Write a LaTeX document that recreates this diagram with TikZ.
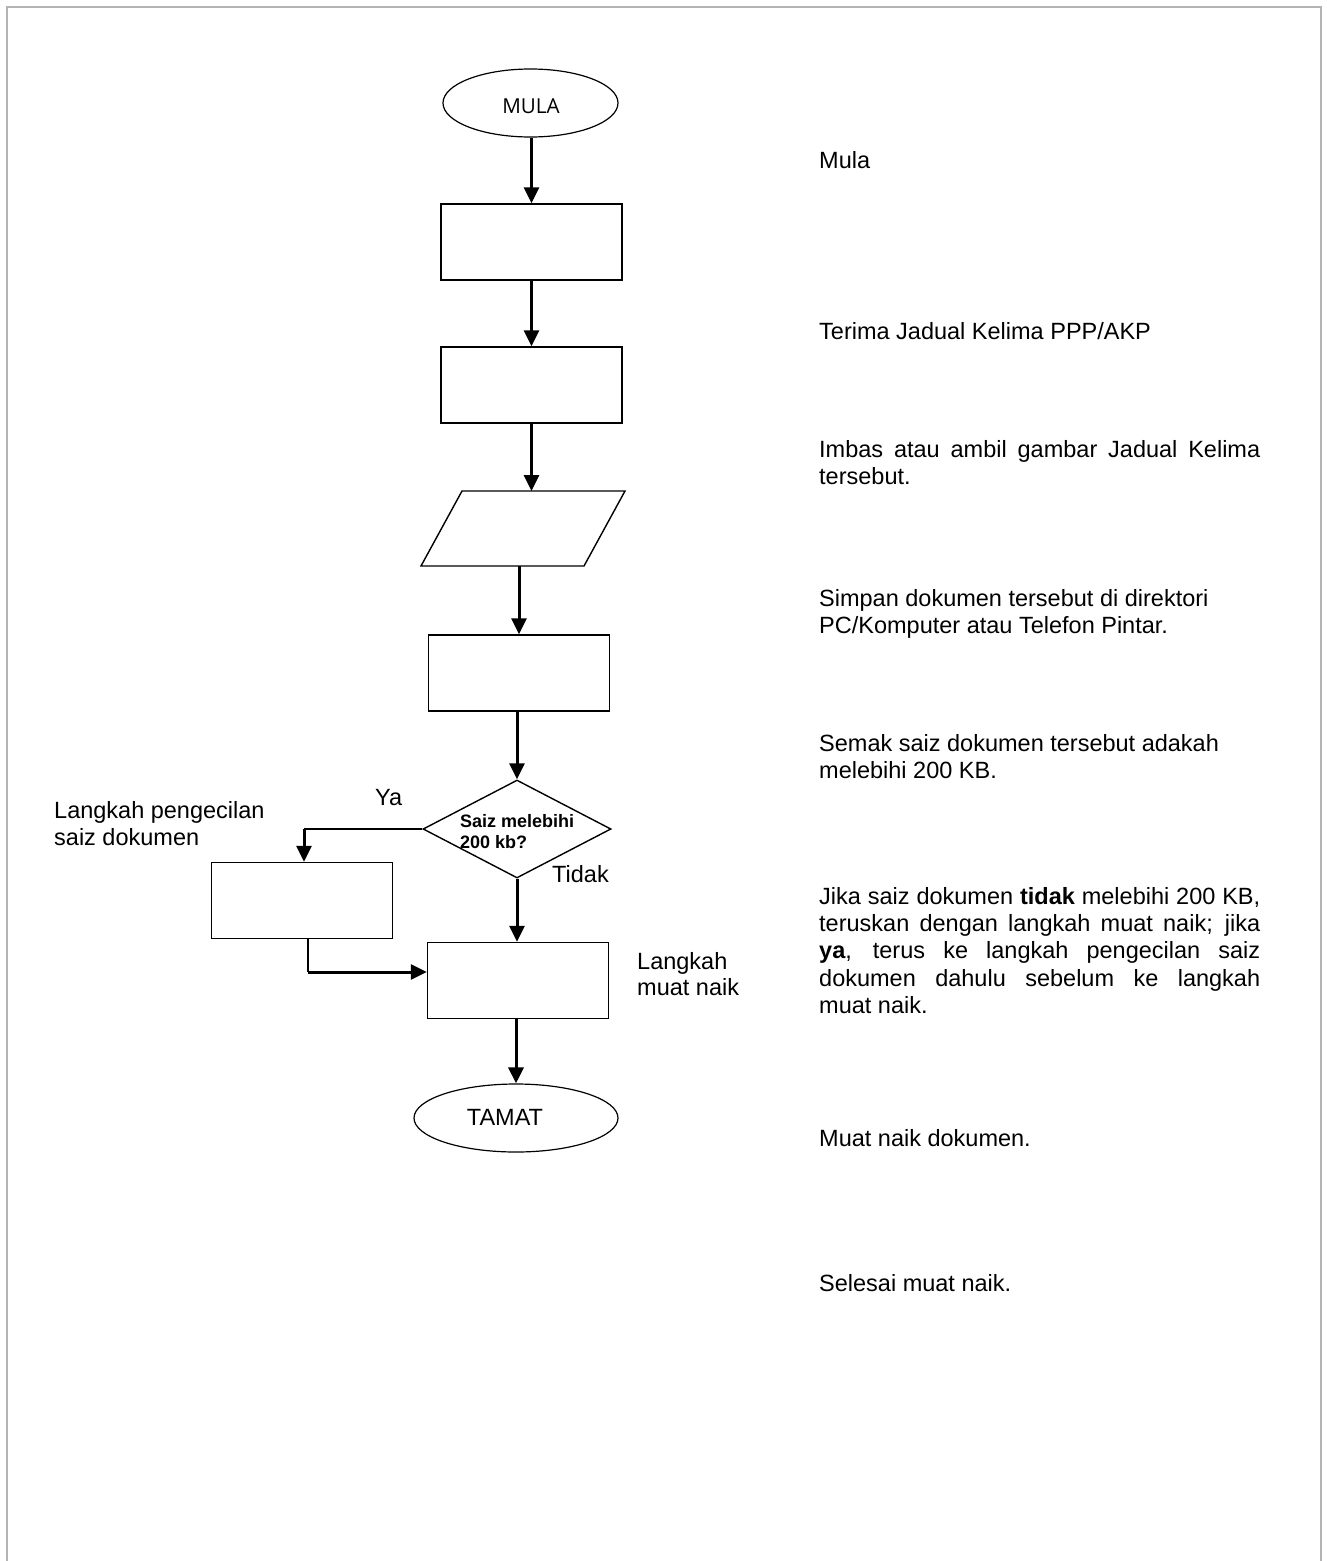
\documentclass[tikz,border=0pt]{standalone}
\usepackage{fontspec}
\setmainfont{Liberation Sans}
\newfontfamily\osans{Open Sans}
\usetikzlibrary{shapes.geometric,arrows.meta}
\begin{document}
\begin{tikzpicture}[x=1pt,y=-1pt,
  txt/.style={anchor=base west, inner sep=0pt, font=\fontsize{23.5}{27}\selectfont},
  box/.style={draw, line width=1.4pt, minimum width=181pt, minimum height=76pt, inner sep=0pt},
  term/.style={draw, ellipse, line width=1.2pt, inner sep=0pt},
  flow/.style={line width=3pt, -{Triangle[length=16pt,width=15pt]}},
  thinline/.style={line width=1.5pt},
  frame/.style={draw={rgb,255:red,180;green,180;blue,180}, line width=2pt}
]
\useasboundingbox (0,0) rectangle (1327,1561);
% page frame
\draw[frame] (7,1561) -- (7,7) -- (1321,7) -- (1321,1561);

% flowchart shapes
\node[term, minimum width=175pt, minimum height=68pt] (mula) at (530.5,103) {};
\node[anchor=base, inner sep=0pt, font=\osans\fontsize{20.6}{24}\selectfont] (mulat) at (531,113) {MULA};
\node[box] (b1) at (531.5,242) {};
\node[box] (b2) at (531.5,385) {};
\draw[line width=1.4pt] (421,566) -- (462,491) -- (625,491) -- (584,566) -- cycle;
\coordinate (ptop) at (531.5,491);
\coordinate (pbot) at (519,566);
\node[box] (b3) at (519,673) {};
\node[draw, diamond, line width=1.4pt, inner sep=0pt, minimum width=188pt, minimum height=98pt] (dia) at (517,829) {};
\node[anchor=base west, inner sep=0pt, font=\bfseries\fontsize{18}{21}\selectfont] (d1) at (460,827) {Saiz melebihi};
\node[anchor=base west, inner sep=0pt, font=\bfseries\fontsize{18}{21}\selectfont] (d2) at (460,848) {200 kb?};
\node[box] (b4) at (302,900.5) {};
\node[box] (b5) at (518,980.5) {};
\node[term, minimum width=204pt, minimum height=68pt] (tamat) at (516,1118) {};
\node[anchor=base, inner sep=0pt, font=\fontsize{23.5}{27}\selectfont] (tamatt) at (505,1125) {TAMAT};

% connectors
\draw[flow] (mula.south -| b1.north) -- (b1.north);
\draw[flow] (b1.south) -- (b2.north);
\draw[flow] (b2.south) -- (ptop);
\draw[flow] (pbot) -- (b3.north);
\draw[flow] (b3.south -| dia.north) -- (dia.north);
\coordinate (ya) at (304,829);
\draw[thinline] (dia.west) -- (ya);
\draw[flow] (ya) -- (ya |- b4.north);
\coordinate (c4) at (308,972);
\draw[thinline] (c4 |- b4.south) -- (c4);
\draw[flow] (c4) -- (c4 -| b5.west);
\draw[flow] (dia.south) -- (dia.south |- b5.north);
\draw[flow] (b5.south -| tamat.north) -- (tamat.north);

% labels by the chart
\node[txt] (lya) at (375,805) {Ya};
\node[txt] (ltidak) at (552,882) {Tidak};
\node[txt] (lp1) at (54,818) {Langkah pengecilan};
\node[txt] (lp2) at (54,845) {saiz dokumen};
\node[txt] (lm1) at (637,969) {Langkah};
\node[txt] (lm2) at (637,995) {muat naik};

% right column
\node[txt] (r1) at (819,168) {Mula};
\node[txt] (r2) at (819,339) {Terima Jadual Kelima PPP/AKP};
\node[txt] (r3a) at (819,457) {\makebox[441pt][s]{Imbas atau ambil gambar Jadual Kelima}};
\node[txt] (r3b) at (819,484) {tersebut.};
\node[txt] (r4a) at (819,606) {Simpan dokumen tersebut di direktori};
\node[txt] (r4b) at (819,633) {PC/Komputer atau Telefon Pintar.};
\node[txt] (r5a) at (819,751) {Semak saiz dokumen tersebut adakah};
\node[txt] (r5b) at (819,778) {melebihi 200 KB.};
\node[txt] (r6a) at (819,904) {\makebox[441pt][s]{Jika saiz dokumen \textbf{tidak} melebihi 200 KB,}};
\node[txt] (r6b) at (819,931) {\makebox[441pt][s]{teruskan dengan langkah muat naik; jika}};
\node[txt] (r6c) at (819,958) {\makebox[441pt][s]{\textbf{ya}, terus ke langkah pengecilan saiz}};
\node[txt] (r6d) at (819,986) {\makebox[441pt][s]{dokumen dahulu sebelum ke langkah}};
\node[txt] (r6e) at (819,1013) {muat naik.};
\node[txt] (r7) at (819,1146) {Muat naik dokumen.};
\node[txt] (r8) at (819,1291) {Selesai muat naik.};
\end{tikzpicture}
\end{document}
